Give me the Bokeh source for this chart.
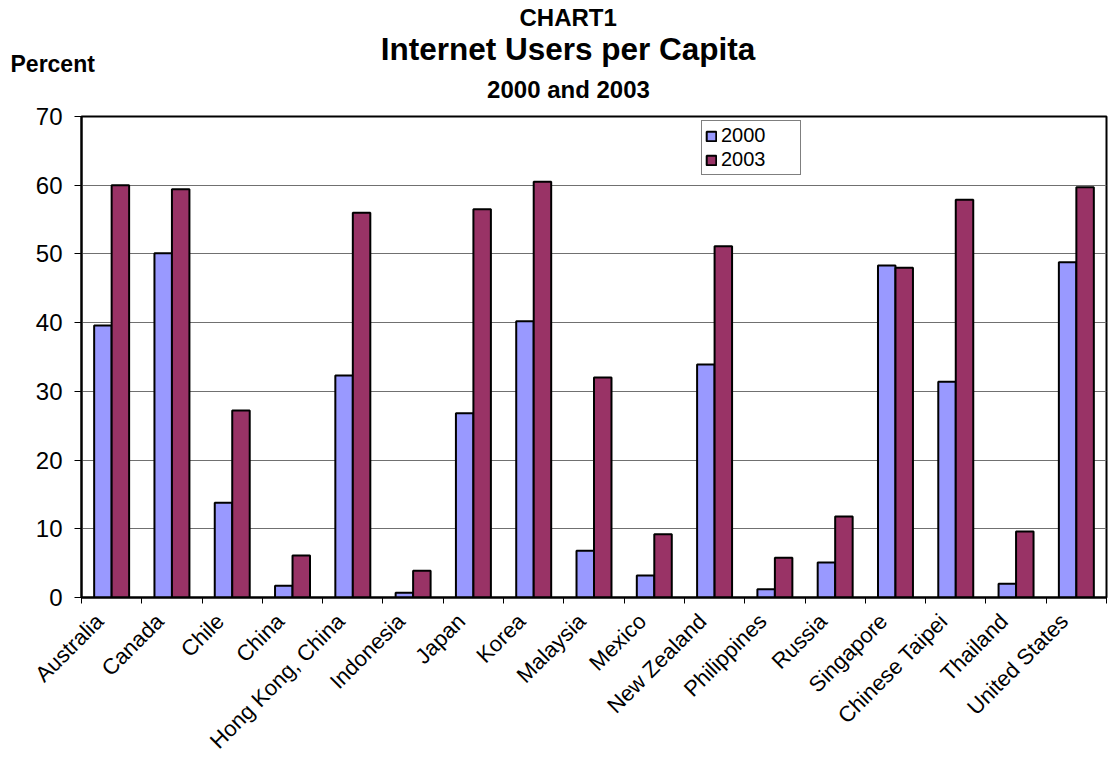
import math
import numpy as np
from bokeh.plotting import figure
from bokeh.models import ColumnDataSource, FixedTicker, Title, Legend, LegendItem
from bokeh.transform import dodge
from bokeh.embed import file_html
from bokeh.resources import INLINE

countries = ["Australia", "Canada", "Chile", "China", "Hong Kong, China", "Indonesia",
             "Japan", "Korea", "Malaysia", "Mexico", "New Zealand", "Philippines",
             "Russia", "Singapore", "Chinese Taipei", "Thailand", "United States"]
users_2000 = [39.6, 50.1, 13.8, 1.7, 32.3, 0.7, 26.8, 40.2, 6.8, 3.2, 33.9, 1.2,
              5.1, 48.3, 31.4, 2.0, 48.8]
users_2003 = [60.0, 59.4, 27.2, 6.1, 56.0, 3.9, 56.5, 60.5, 32.0, 9.2, 51.1, 5.8,
              11.8, 48.0, 57.9, 9.6, 59.7]
series_names = ["2000", "2003"]
y_ticks = [0, 10, 20, 30, 40, 50, 60, 70]

FONT = "Liberation Sans"
C2000 = "#9999FF"
C2003 = "#993366"

n = len(countries)
centers = [i + 0.5 for i in range(n)]
src = ColumnDataSource(dict(x=centers, v2000=users_2000, v2003=users_2003, name=countries))

p = figure(width=1109, height=765, x_range=(0, n), y_range=(0, 70),
           output_backend="svg", toolbar_location=None,
           min_border_left=81, min_border_right=3, min_border_top=116, min_border_bottom=168)
p.background_fill_color = "white"
p.border_fill_color = "white"
p.outline_line_color = "black"
p.outline_line_width = 2

bw = 0.29
r1 = p.vbar(x=dodge("x", -bw / 2, range=p.x_range), top="v2000", width=bw, source=src,
            fill_color=C2000, line_color="black", line_width=2)
r2 = p.vbar(x=dodge("x", bw / 2, range=p.x_range), top="v2003", width=bw, source=src,
            fill_color=C2003, line_color="black", line_width=2)

# x axis: labels anchored slightly left of each category centre, ticks at boundaries
label_pos = [c - 0.2 for c in centers]
p.xaxis.ticker = FixedTicker(ticks=label_pos, minor_ticks=list(range(n + 1)))
p.xaxis.major_label_overrides = {lp: name for lp, name in zip(label_pos, countries)}
p.xaxis.major_label_orientation = math.pi / 4
p.xaxis.major_tick_out = 0
p.xaxis.major_tick_in = 0
p.xaxis.minor_tick_out = 6
p.xaxis.minor_tick_in = 0
p.xaxis.minor_tick_line_color = "black"
p.xaxis.axis_line_color = "black"
p.xaxis.axis_line_width = 2
p.xaxis.major_label_text_font = FONT
p.xaxis.major_label_text_font_size = "22px"
p.xaxis.major_label_text_color = "black"
p.xaxis.major_label_standoff = 14

# y axis
p.yaxis.ticker = FixedTicker(ticks=y_ticks)
p.yaxis.major_tick_out = 7
p.yaxis.major_tick_in = 0
p.yaxis.minor_tick_line_color = None
p.yaxis.axis_line_color = "black"
p.yaxis.axis_line_width = 2
p.yaxis.major_tick_line_color = "black"
p.yaxis.major_label_text_font = FONT
p.yaxis.major_label_text_font_size = "24px"
p.yaxis.major_label_text_color = "black"
p.yaxis.major_label_standoff = 12

p.xgrid.grid_line_color = None
p.ygrid.ticker = FixedTicker(ticks=y_ticks)
p.ygrid.grid_line_color = "#707070"
p.ygrid.grid_line_width = 1

# titles, stacked outward from the plot frame
def add_title(txt, size, offset, standoff, valign):
    p.add_layout(Title(text=txt, text_font=FONT, text_font_size=size,
                       text_font_style="bold", text_color="black", align="left",
                       offset=offset, standoff=standoff, vertical_align=valign), "above")

add_title("2000 and 2003", "24px", 405.6, 24.2, "top")
add_title("Percent", "23px", -71, -27.7, "bottom")
add_title("Internet Users per Capita", "31.5px", 299.2, -7.2, "bottom")
add_title("CHART1", "24px", 438, -1, "top")

legend = Legend(items=[LegendItem(label=series_names[0], renderers=[r1]),
                       LegendItem(label=series_names[1], renderers=[r2])],
                location=(620, 422))
legend.label_text_font = FONT
legend.label_text_font_size = "20px"
legend.label_text_color = "black"
legend.glyph_width = 12
legend.glyph_height = 12
legend.label_standoff = 4
legend.padding = 3
legend.spacing = 1
legend.label_width = 76
legend.label_height = 20
legend.border_line_color = "black"
legend.border_line_width = 1
legend.background_fill_color = "white"
legend.margin = 0
p.add_layout(legend)

open("out.html", "w").write(file_html(p, INLINE))
